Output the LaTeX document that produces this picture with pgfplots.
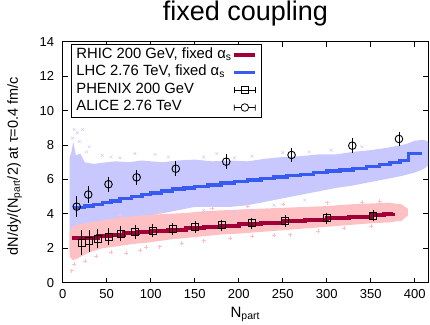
\documentclass[border=0pt]{standalone}
\usepackage{pgfplots}
\pgfplotsset{compat=1.18}
\usepackage{fontspec}
\setmainfont{Liberation Sans}
\definecolor{rhic}{RGB}{160,0,55}
\definecolor{lhc}{RGB}{55,90,240}
\definecolor{pinkband}{RGB}{255,192,196}
\definecolor{lavband}{RGB}{200,200,255}
\begin{document}
\begin{tikzpicture}
\path[use as bounding box] (-62.7bp,-42.3bp) rectangle (367.3bp,282.7bp);
\begin{axis}[
  at={(0,0)}, anchor=south west,
  scale only axis, width=365.3bp, height=241bp,
  xmin=0, xmax=415, ymin=0, ymax=14,
  xtick={0,50,...,400}, ytick={0,2,...,14},
  tick align=inside, tick pos=both, major tick length=5bp,
  every tick/.style={black, line width=0.8bp},
  axis line style={black, line width=1bp},
  /pgf/number format/assume math mode=true,
  ticklabel style={font=\fontsize{13bp}{15bp}\selectfont},
  yticklabel style={xshift=-5bp},
  xticklabel style={yshift=-3bp},
  title={fixed coupling},
  title style={font=\fontsize{27bp}{30bp}\selectfont, at={(axis description cs:0.5,1)}, anchor=center, yshift=22bp},
  xlabel={N\textsubscript{part}},
  xlabel style={font=\fontsize{15bp}{17bp}\selectfont, at={(axis description cs:0.5,0)}, anchor=base, yshift=-35bp},
  ylabel={dN/dy/(N\textsubscript{part}/2) at τ=0.4 fm/c},
  ylabel style={font=\fontsize{14.5bp}{17bp}\selectfont, at={(axis description cs:0,0.5)}, anchor=center, yshift=48bp, xshift=-4bp},
  legend cell align=left,
  legend plot pos=right,
  legend style={at={(axis description cs:0.0227,0.989)}, anchor=north west, draw=black, line width=0.8bp,
    font=\fontsize{14.8bp}{17bp}\selectfont, inner xsep=4bp, inner ysep=1.5bp, row sep=0bp,
    nodes={inner sep=1bp, text height=11bp, text depth=4.5bp}},
]
% LHC scattered points (band)
\addplot[fill=lavband, draw=none, forget plot] coordinates {
(8,7.3) (10,7.6) (12,8.2) (15,7.4) (20,7.5) (25,7.0) (35,6.9) (50,7.0) (60,7.05) (75,7.0) (90,7.1) (100,7.05) (115,7.0) (130,7.1) (150,7.15) (170,7.05) (190,7.1) (210,7.05) (230,7.2) (250,7.3) (270,7.35) (290,7.45) (310,7.45) (330,7.6) (350,7.7) (370,7.85) (390,8.05) (400,8.25) (410,8.3) (415,8.2)
(415,6.8) (410,6.6) (400,6.4) (385,6.2) (370,6.05) (350,5.85) (330,5.65) (310,5.5) (290,5.3) (270,5.1) (250,4.9) (230,4.7) (210,4.5) (190,4.4) (170,4.4) (150,4.4) (130,4.2) (110,4.0) (90,3.8) (70,3.6) (50,3.3) (35,3.0) (25,2.5) (18,1.8) (12,1.5) (8,1.8)
} -- cycle;
\addplot[only marks, mark=x, mark size=2bp, color=lavband, forget plot] coordinates {
(13,8.9) (22.7,8.9) (16.6,8.7) (11,8.4) (19,8.2) (30,7.9) (27,7.6) (45,7.4) (55,7.3) (82,7.5) (65,7.25) (105,7.45) (120,7.3) (175,7.5) (195,7.25) (215,7.35) (160,7.3) (280,7.6) (305,7.7) (340,7.9) (250,7.55) (120,3.7) (160,4.2) (195,4.1) (215,4.2) (240,4.5) (275,4.8)
};
% RHIC scattered points (band)
\addplot[fill=pinkband, draw=none, forget plot] coordinates {
(8,3.0) (12,3.3) (20,3.4) (30,3.5) (45,3.6) (60,3.75) (80,3.85) (100,3.95) (120,4.0) (140,4.05) (160,4.15) (180,4.2) (200,4.25) (225,4.3) (250,4.35) (275,4.4) (300,4.45) (325,4.55) (350,4.6) (370,4.65) (385,4.55) (392,4.3)
(392,3.9) (385,3.6) (370,3.5) (350,3.45) (325,3.35) (300,3.25) (275,3.15) (250,3.05) (225,2.95) (200,2.85) (180,2.8) (160,2.7) (140,2.6) (120,2.5) (100,2.35) (80,2.25) (60,2.1) (45,2.0) (30,1.75) (20,1.5) (12,1.3) (8,1.5)
} -- cycle;
\addplot[only marks, mark=+, mark size=2bp, color=pinkband, forget plot] coordinates {
(10,0.7) (13,1.1) (25,1.25) (38,1.55) (55,1.8) (72,1.7) (88,1.9) (95,2.05) (110,2.1) (135,2.3) (160,2.45) (190,2.6) (215,2.7) (240,2.75) (258,2.8) (290,3.0) (320,3.15) (350,3.3) (65,3.95) (110,4.1) (170,4.35) (210,4.45) (250,4.55) (300,4.65) (340,4.7) (360,4.75)
};
% model lines
\addplot[const plot, color=rhic, line width=4bp,
  legend image code/.code={\draw[rhic, line width=3.5bp] (0bp,0bp) -- (21bp,0bp);}] coordinates {
(10,2.58) (25,2.62) (40,2.7) (55,2.78) (70,2.86) (85,2.93) (100,3.0) (120,3.08) (140,3.16) (160,3.24) (180,3.32) (200,3.4) (225,3.48) (250,3.56) (275,3.64) (300,3.73) (325,3.82) (350,3.92) (365,3.98) (375,4.03)
};
\addlegendentry{RHIC 200 GeV, fixed α\textsubscript{s}}
\addplot[const plot, color=lhc, line width=3.5bp,
  legend image code/.code={\draw[lhc, line width=3.5bp] (0bp,0bp) -- (21bp,0bp);}] coordinates {
(12,4.38) (25,4.45) (35,4.55) (45,4.65) (55,4.75) (65,4.88) (78,5.0) (90,5.12) (100,5.22) (112,5.33) (125,5.43) (138,5.5) (150,5.58) (165,5.68) (180,5.78) (195,5.88) (210,5.97) (225,6.06) (240,6.15) (255,6.24) (270,6.3) (285,6.4) (300,6.48) (315,6.56) (330,6.64) (345,6.74) (360,6.86) (372,6.98) (383,7.1) (393,7.5) (408,7.5)
};
\addlegendentry{LHC 2.76 TeV, fixed α\textsubscript{s}}
% data
\addplot[black, only marks, mark=square, mark size=3.5bp, mark options={line width=0.9bp},
  legend image code/.code={\draw[black, line width=0.8bp] (0bp,0bp) -- (21bp,0bp) (0bp,-3bp) -- (0bp,3bp) (21bp,-3bp) -- (21bp,3bp) (7bp,-3.5bp) rectangle (14bp,3.5bp);},
  error bars/.cd, y dir=both, y explicit, error bar style={line width=0.9bp, black}, error mark options={line width=0.9bp, mark size=3bp, black}]
  coordinates {
(21.6,2.32) +- (0,0.56)
(30,2.42) +- (0,0.46)
(39.8,2.57) +- (0,0.38)
(52,2.67) +- (0,0.33)
(66,2.85) +- (0,0.28)
(82.6,2.95) +- (0,0.24)
(102.4,3.02) +- (0,0.2)
(124.7,3.12) +- (0,0.18)
(150.5,3.24) +- (0,0.17)
(180.4,3.33) +- (0,0.16)
(214.6,3.45) +- (0,0.15)
(253,3.58) +- (0,0.15)
(300,3.74) +- (0,0.15)
(352.7,3.89) +- (0,0.16)
};
\addlegendentry{PHENIX 200 GeV}
\addplot[black, only marks, mark=o, mark size=3.8bp, mark options={line width=0.9bp},
  legend image code/.code={\draw[black, line width=0.8bp] (0bp,0bp) -- (6.7bp,0bp) (14.3bp,0bp) -- (21bp,0bp) (0bp,-3bp) -- (0bp,3bp) (21bp,-3bp) -- (21bp,3bp) (10.5bp,0bp) circle (3.8bp);},
  error bars/.cd, y dir=both, y explicit, error bar style={line width=0.9bp, black}, error mark options={line width=0.9bp, mark size=3bp, black}]
  coordinates {
(15.9,4.42) +- (0,0.42)
(29,5.12) +- (0,0.3)
(52,5.72) +- (0,0.25)
(84,6.12) +- (0,0.25)
(128.5,6.62) +- (0,0.25)
(185.8,7.03) +- (0,0.25)
(260,7.42) +- (0,0.25)
(329,7.96) +- (0,0.25)
(382,8.35) +- (0,0.25)
};
\addlegendentry{ALICE 2.76 TeV}
\end{axis}
\end{tikzpicture}
\end{document}
